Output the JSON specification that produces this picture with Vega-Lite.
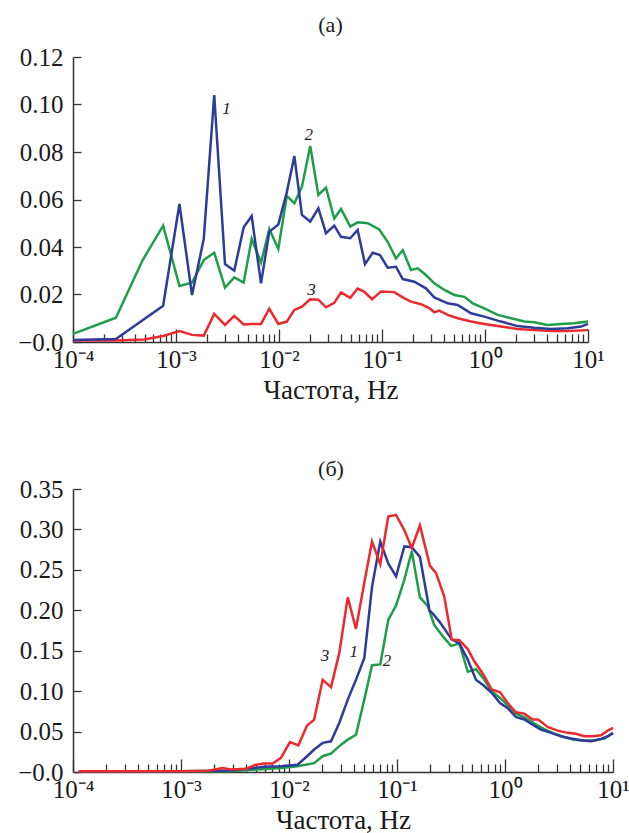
{
  "$schema": "https://vega.github.io/schema/vega-lite/v6.json",
  "padding": {"left": 17, "top": 14, "right": 5, "bottom": 0},
  "config": {
    "view": {"stroke": null},
    "font": "Liberation Serif",
    "axis": {"domainColor": "#333", "domainWidth": 1.5, "tickColor": "#333", "tickWidth": 1.3, "labelFont": "Liberation Serif", "labelFontSize": 25, "labelColor": "#1a1a1a", "titleFont": "Liberation Serif", "titleFontSize": 27, "titleFontWeight": "normal", "titleColor": "#1a1a1a", "grid": false},
    "title": {"font": "Liberation Serif", "fontSize": 22, "fontWeight": "normal", "color": "#1a1a1a"},
    "line": {"strokeWidth": 2.5}
  },
  "datasets": {
    "top": [
      {"s": "2", "f": 0.0001, "v": 0.0034}, {"s": "2", "f": 0.000261, "v": 0.0102}, {"s": "2", "f": 0.000475, "v": 0.0345}, {"s": "2", "f": 0.00075, "v": 0.049}, {"s": "2", "f": 0.00108, "v": 0.0236}, {"s": "2", "f": 0.00143, "v": 0.025}, {"s": "2", "f": 0.00186, "v": 0.0345}, {"s": "2", "f": 0.00235, "v": 0.0376}, {"s": "2", "f": 0.00299, "v": 0.0229}, {"s": "2", "f": 0.00368, "v": 0.0272}, {"s": "2", "f": 0.00454, "v": 0.025}, {"s": "2", "f": 0.00543, "v": 0.0434}, {"s": "2", "f": 0.00669, "v": 0.0334}, {"s": "2", "f": 0.00805, "v": 0.0476}, {"s": "2", "f": 0.00985, "v": 0.0392}, {"s": "2", "f": 0.0119, "v": 0.0615}, {"s": "2", "f": 0.0141, "v": 0.0584}, {"s": "2", "f": 0.0167, "v": 0.0654}, {"s": "2", "f": 0.0201, "v": 0.0825}, {"s": "2", "f": 0.0241, "v": 0.0619}, {"s": "2", "f": 0.0286, "v": 0.065}, {"s": "2", "f": 0.0344, "v": 0.052}, {"s": "2", "f": 0.04, "v": 0.056}, {"s": "2", "f": 0.0492, "v": 0.0486}, {"s": "2", "f": 0.058, "v": 0.0504}, {"s": "2", "f": 0.0727, "v": 0.05}, {"s": "2", "f": 0.094, "v": 0.0474}, {"s": "2", "f": 0.1135, "v": 0.0422}, {"s": "2", "f": 0.1367, "v": 0.0352}, {"s": "2", "f": 0.159, "v": 0.0387}, {"s": "2", "f": 0.191, "v": 0.0303}, {"s": "2", "f": 0.222, "v": 0.031}, {"s": "2", "f": 0.267, "v": 0.0282}, {"s": "2", "f": 0.322, "v": 0.0247}, {"s": "2", "f": 0.403, "v": 0.0219}, {"s": "2", "f": 0.504, "v": 0.0198}, {"s": "2", "f": 0.63, "v": 0.019}, {"s": "2", "f": 0.76, "v": 0.0163}, {"s": "2", "f": 0.985, "v": 0.0142}, {"s": "2", "f": 1.33, "v": 0.0114}, {"s": "2", "f": 1.79, "v": 0.01}, {"s": "2", "f": 2.41, "v": 0.0086}, {"s": "2", "f": 3.01, "v": 0.0083}, {"s": "2", "f": 4.06, "v": 0.0072}, {"s": "2", "f": 5.47, "v": 0.0076}, {"s": "2", "f": 7.36, "v": 0.0079}, {"s": "2", "f": 10, "v": 0.0086},
      {"s": "3", "f": 0.0001, "v": 0.0006}, {"s": "3", "f": 0.000261, "v": 0.0006}, {"s": "3", "f": 0.00049, "v": 0.0011}, {"s": "3", "f": 0.00075, "v": 0.0025}, {"s": "3", "f": 0.00108, "v": 0.0046}, {"s": "3", "f": 0.00143, "v": 0.003}, {"s": "3", "f": 0.00186, "v": 0.0027}, {"s": "3", "f": 0.00235, "v": 0.0118}, {"s": "3", "f": 0.00299, "v": 0.0072}, {"s": "3", "f": 0.00368, "v": 0.011}, {"s": "3", "f": 0.00454, "v": 0.0074}, {"s": "3", "f": 0.00543, "v": 0.0076}, {"s": "3", "f": 0.00669, "v": 0.0076}, {"s": "3", "f": 0.00805, "v": 0.014}, {"s": "3", "f": 0.00985, "v": 0.0076}, {"s": "3", "f": 0.0119, "v": 0.0086}, {"s": "3", "f": 0.0141, "v": 0.0135}, {"s": "3", "f": 0.0167, "v": 0.0149}, {"s": "3", "f": 0.0201, "v": 0.018}, {"s": "3", "f": 0.0241, "v": 0.0178}, {"s": "3", "f": 0.0286, "v": 0.0146}, {"s": "3", "f": 0.0344, "v": 0.0165}, {"s": "3", "f": 0.04, "v": 0.0209}, {"s": "3", "f": 0.0492, "v": 0.0186}, {"s": "3", "f": 0.058, "v": 0.0225}, {"s": "3", "f": 0.067, "v": 0.0212}, {"s": "3", "f": 0.08, "v": 0.018}, {"s": "3", "f": 0.098, "v": 0.0213}, {"s": "3", "f": 0.1315, "v": 0.021}, {"s": "3", "f": 0.159, "v": 0.0188}, {"s": "3", "f": 0.191, "v": 0.017}, {"s": "3", "f": 0.239, "v": 0.0159}, {"s": "3", "f": 0.29, "v": 0.0142}, {"s": "3", "f": 0.322, "v": 0.0125}, {"s": "3", "f": 0.36, "v": 0.0132}, {"s": "3", "f": 0.434, "v": 0.0114}, {"s": "3", "f": 0.543, "v": 0.01}, {"s": "3", "f": 0.731, "v": 0.0086}, {"s": "3", "f": 0.985, "v": 0.0076}, {"s": "3", "f": 1.43, "v": 0.0065}, {"s": "3", "f": 2.07, "v": 0.0055}, {"s": "3", "f": 3.01, "v": 0.005}, {"s": "3", "f": 4.37, "v": 0.0046}, {"s": "3", "f": 6.35, "v": 0.0046}, {"s": "3", "f": 10, "v": 0.005},
      {"s": "1", "f": 0.0001, "v": 0.0008}, {"s": "1", "f": 0.000261, "v": 0.0013}, {"s": "1", "f": 0.00075, "v": 0.0153}, {"s": "1", "f": 0.00108, "v": 0.0581}, {"s": "1", "f": 0.00143, "v": 0.0198}, {"s": "1", "f": 0.00186, "v": 0.0434}, {"s": "1", "f": 0.00235, "v": 0.104}, {"s": "1", "f": 0.00299, "v": 0.0328}, {"s": "1", "f": 0.00368, "v": 0.03}, {"s": "1", "f": 0.00454, "v": 0.0483}, {"s": "1", "f": 0.00543, "v": 0.053}, {"s": "1", "f": 0.00669, "v": 0.0247}, {"s": "1", "f": 0.00805, "v": 0.0464}, {"s": "1", "f": 0.00985, "v": 0.0495}, {"s": "1", "f": 0.0119, "v": 0.063}, {"s": "1", "f": 0.0141, "v": 0.0783}, {"s": "1", "f": 0.0167, "v": 0.0535}, {"s": "1", "f": 0.0201, "v": 0.0507}, {"s": "1", "f": 0.0241, "v": 0.0563}, {"s": "1", "f": 0.0286, "v": 0.0458}, {"s": "1", "f": 0.0344, "v": 0.049}, {"s": "1", "f": 0.04, "v": 0.0443}, {"s": "1", "f": 0.0492, "v": 0.0437}, {"s": "1", "f": 0.058, "v": 0.0472}, {"s": "1", "f": 0.0684, "v": 0.0328}, {"s": "1", "f": 0.0813, "v": 0.0376}, {"s": "1", "f": 0.0957, "v": 0.0366}, {"s": "1", "f": 0.1135, "v": 0.0313}, {"s": "1", "f": 0.1367, "v": 0.0317}, {"s": "1", "f": 0.159, "v": 0.0265}, {"s": "1", "f": 0.206, "v": 0.0254}, {"s": "1", "f": 0.267, "v": 0.0226}, {"s": "1", "f": 0.322, "v": 0.0188}, {"s": "1", "f": 0.434, "v": 0.0163}, {"s": "1", "f": 0.543, "v": 0.0156}, {"s": "1", "f": 0.731, "v": 0.0121}, {"s": "1", "f": 0.985, "v": 0.0107}, {"s": "1", "f": 1.43, "v": 0.0086}, {"s": "1", "f": 2.07, "v": 0.0067}, {"s": "1", "f": 3.01, "v": 0.006}, {"s": "1", "f": 4.37, "v": 0.0055}, {"s": "1", "f": 6.35, "v": 0.0058}, {"s": "1", "f": 8.55, "v": 0.0065}, {"s": "1", "f": 10, "v": 0.0076}
    ],
    "bottom": [
      {"s": "2", "f": 0.000113, "v": 0.0003}, {"s": "2", "f": 0.001, "v": 0.0005}, {"s": "2", "f": 0.0029, "v": 0.001}, {"s": "2", "f": 0.00843, "v": 0.005}, {"s": "2", "f": 0.012, "v": 0.007}, {"s": "2", "f": 0.0171, "v": 0.011}, {"s": "2", "f": 0.0205, "v": 0.0195}, {"s": "2", "f": 0.0245, "v": 0.0228}, {"s": "2", "f": 0.0292, "v": 0.032}, {"s": "2", "f": 0.035, "v": 0.04}, {"s": "2", "f": 0.0417, "v": 0.046}, {"s": "2", "f": 0.0498, "v": 0.0895}, {"s": "2", "f": 0.0587, "v": 0.132}, {"s": "2", "f": 0.07, "v": 0.133}, {"s": "2", "f": 0.083, "v": 0.188}, {"s": "2", "f": 0.098, "v": 0.206}, {"s": "2", "f": 0.117, "v": 0.238}, {"s": "2", "f": 0.137, "v": 0.273}, {"s": "2", "f": 0.163, "v": 0.216}, {"s": "2", "f": 0.193, "v": 0.205}, {"s": "2", "f": 0.221, "v": 0.182}, {"s": "2", "f": 0.265, "v": 0.168}, {"s": "2", "f": 0.316, "v": 0.156}, {"s": "2", "f": 0.378, "v": 0.159}, {"s": "2", "f": 0.452, "v": 0.124}, {"s": "2", "f": 0.538, "v": 0.127}, {"s": "2", "f": 0.644, "v": 0.114}, {"s": "2", "f": 0.753, "v": 0.0998}, {"s": "2", "f": 0.9, "v": 0.0916}, {"s": "2", "f": 1.06, "v": 0.0825}, {"s": "2", "f": 1.26, "v": 0.072}, {"s": "2", "f": 1.51, "v": 0.068}, {"s": "2", "f": 1.87, "v": 0.06}, {"s": "2", "f": 2.31, "v": 0.053}, {"s": "2", "f": 2.86, "v": 0.0475}, {"s": "2", "f": 3.54, "v": 0.043}, {"s": "2", "f": 4.38, "v": 0.04}, {"s": "2", "f": 5.42, "v": 0.039}, {"s": "2", "f": 6.71, "v": 0.039}, {"s": "2", "f": 8.32, "v": 0.0414}, {"s": "2", "f": 10, "v": 0.048},
      {"s": "1", "f": 0.000113, "v": 0.0005}, {"s": "1", "f": 0.001, "v": 0.0008}, {"s": "1", "f": 0.0029, "v": 0.002}, {"s": "1", "f": 0.0059, "v": 0.0064}, {"s": "1", "f": 0.00843, "v": 0.0072}, {"s": "1", "f": 0.012, "v": 0.009}, {"s": "1", "f": 0.0147, "v": 0.0195}, {"s": "1", "f": 0.0171, "v": 0.0278}, {"s": "1", "f": 0.0205, "v": 0.036}, {"s": "1", "f": 0.0245, "v": 0.038}, {"s": "1", "f": 0.0292, "v": 0.0607}, {"s": "1", "f": 0.035, "v": 0.0895}, {"s": "1", "f": 0.0417, "v": 0.114}, {"s": "1", "f": 0.0498, "v": 0.141}, {"s": "1", "f": 0.0587, "v": 0.229}, {"s": "1", "f": 0.07, "v": 0.285}, {"s": "1", "f": 0.083, "v": 0.258}, {"s": "1", "f": 0.098, "v": 0.242}, {"s": "1", "f": 0.117, "v": 0.279}, {"s": "1", "f": 0.137, "v": 0.278}, {"s": "1", "f": 0.163, "v": 0.266}, {"s": "1", "f": 0.2, "v": 0.2}, {"s": "1", "f": 0.214, "v": 0.196}, {"s": "1", "f": 0.247, "v": 0.186}, {"s": "1", "f": 0.321, "v": 0.164}, {"s": "1", "f": 0.378, "v": 0.159}, {"s": "1", "f": 0.452, "v": 0.139}, {"s": "1", "f": 0.538, "v": 0.114}, {"s": "1", "f": 0.634, "v": 0.107}, {"s": "1", "f": 0.753, "v": 0.098}, {"s": "1", "f": 0.9, "v": 0.0854}, {"s": "1", "f": 1.06, "v": 0.079}, {"s": "1", "f": 1.26, "v": 0.068}, {"s": "1", "f": 1.51, "v": 0.065}, {"s": "1", "f": 1.8, "v": 0.0586}, {"s": "1", "f": 2.15, "v": 0.0525}, {"s": "1", "f": 2.67, "v": 0.0484}, {"s": "1", "f": 3.3, "v": 0.0442}, {"s": "1", "f": 4.09, "v": 0.0414}, {"s": "1", "f": 5.05, "v": 0.0393}, {"s": "1", "f": 6.26, "v": 0.038}, {"s": "1", "f": 7.74, "v": 0.041}, {"s": "1", "f": 8.93, "v": 0.0442}, {"s": "1", "f": 10, "v": 0.0484},
      {"s": "3", "f": 0.000113, "v": 0.001}, {"s": "3", "f": 0.001, "v": 0.001}, {"s": "3", "f": 0.0018, "v": 0.0015}, {"s": "3", "f": 0.00243, "v": 0.005}, {"s": "3", "f": 0.0029, "v": 0.003}, {"s": "3", "f": 0.004, "v": 0.004}, {"s": "3", "f": 0.00494, "v": 0.009}, {"s": "3", "f": 0.0059, "v": 0.0105}, {"s": "3", "f": 0.00706, "v": 0.0105}, {"s": "3", "f": 0.00843, "v": 0.0175}, {"s": "3", "f": 0.0102, "v": 0.037}, {"s": "3", "f": 0.0122, "v": 0.033}, {"s": "3", "f": 0.0147, "v": 0.0574}, {"s": "3", "f": 0.0171, "v": 0.0648}, {"s": "3", "f": 0.0205, "v": 0.114}, {"s": "3", "f": 0.0245, "v": 0.105}, {"s": "3", "f": 0.0292, "v": 0.147}, {"s": "3", "f": 0.035, "v": 0.216}, {"s": "3", "f": 0.0417, "v": 0.177}, {"s": "3", "f": 0.0498, "v": 0.234}, {"s": "3", "f": 0.0587, "v": 0.285}, {"s": "3", "f": 0.07, "v": 0.257}, {"s": "3", "f": 0.083, "v": 0.316}, {"s": "3", "f": 0.098, "v": 0.318}, {"s": "3", "f": 0.117, "v": 0.299}, {"s": "3", "f": 0.137, "v": 0.277}, {"s": "3", "f": 0.163, "v": 0.305}, {"s": "3", "f": 0.202, "v": 0.255}, {"s": "3", "f": 0.23, "v": 0.246}, {"s": "3", "f": 0.274, "v": 0.217}, {"s": "3", "f": 0.321, "v": 0.164}, {"s": "3", "f": 0.378, "v": 0.163}, {"s": "3", "f": 0.452, "v": 0.152}, {"s": "3", "f": 0.52, "v": 0.137}, {"s": "3", "f": 0.634, "v": 0.12}, {"s": "3", "f": 0.753, "v": 0.102}, {"s": "3", "f": 0.9, "v": 0.0985}, {"s": "3", "f": 1.06, "v": 0.0854}, {"s": "3", "f": 1.26, "v": 0.0738}, {"s": "3", "f": 1.51, "v": 0.0722}, {"s": "3", "f": 1.8, "v": 0.0648}, {"s": "3", "f": 2.03, "v": 0.0648}, {"s": "3", "f": 2.48, "v": 0.0558}, {"s": "3", "f": 3.07, "v": 0.0512}, {"s": "3", "f": 3.8, "v": 0.0484}, {"s": "3", "f": 4.54, "v": 0.0472}, {"s": "3", "f": 5.42, "v": 0.0442}, {"s": "3", "f": 6.48, "v": 0.0442}, {"s": "3", "f": 7.74, "v": 0.0454}, {"s": "3", "f": 8.93, "v": 0.0512}, {"s": "3", "f": 10, "v": 0.0546}
    ],
    "toplabels": [
      {"t": "1", "f": 0.0031, "v": 0.098}, {"t": "2", "f": 0.0195, "v": 0.0872}, {"t": "3", "f": 0.0207, "v": 0.0219}
    ],
    "bottomlabels": [
      {"t": "3", "f": 0.0215, "v": 0.144}, {"t": "1", "f": 0.0397, "v": 0.149}, {"t": "2", "f": 0.0807, "v": 0.137}
    ]
  },
  "resolve": {"scale": {"x": "independent", "y": "independent"}},
  "spacing": 55,
  "vconcat": [
    {
      "width": 515,
      "height": 285,
      "title": {"text": "(a)", "offset": 8},
      "layer": [
        {
          "data": {"name": "top"},
          "mark": {"type": "line"},
          "encoding": {
            "x": {"field": "f", "type": "quantitative", "scale": {"type": "log", "domain": [0.0001, 10], "nice": false},
              "axis": {"title": "Частота, Hz", "titlePadding": 0, "labelFlush": false, "labelOverlap": false, "labelPadding": 18,
                "values": [0.0001,0.0002,0.0003,0.0004,0.0005,0.0006,0.0007,0.0008,0.0009,0.001,0.002,0.003,0.004,0.005,0.006,0.007,0.008,0.009,0.01,0.02,0.03,0.04,0.05,0.06,0.07,0.08,0.09,0.1,0.2,0.3,0.4,0.5,0.6,0.7,0.8,0.9,1,2,3,4,5,6,7,8,9,10],
                "tickSize": {"condition": {"test": "abs(log(datum.value)/LN10 - round(log(datum.value)/LN10)) < 0.001", "value": -13}, "value": -8},
                "labelExpr": "abs(log(datum.value)/LN10 - round(log(datum.value)/LN10)) < 0.001 ? (round(log(datum.value)/LN10) == -4 ? '10⁻⁴' : round(log(datum.value)/LN10) == -3 ? '10⁻³' : round(log(datum.value)/LN10) == -2 ? '10⁻²' : round(log(datum.value)/LN10) == -1 ? '10⁻¹' : round(log(datum.value)/LN10) == 0 ? '10⁰' : '10¹') : ''"}},
            "y": {"field": "v", "type": "quantitative", "scale": {"domain": [0, 0.12], "nice": false},
              "axis": {"title": null, "values": [0, 0.02, 0.04, 0.06, 0.08, 0.1, 0.12], "tickSize": -8, "labelPadding": 18,
                "labelExpr": "datum.value == 0 ? '−0.0' : format(datum.value, '.2f')"}},
            "color": {"field": "s", "type": "nominal", "scale": {"domain": ["1", "2", "3"], "range": ["#2d3c9b", "#1f9e4a", "#ec2a2d"]}, "legend": null},
            "order": {"field": "f", "type": "quantitative"}
          }
        },
        {
          "data": {"name": "toplabels"},
          "mark": {"type": "text", "font": "Liberation Serif", "fontStyle": "italic", "fontSize": 17, "color": "#222"},
          "encoding": {
            "x": {"field": "f", "type": "quantitative"},
            "y": {"field": "v", "type": "quantitative"},
            "text": {"field": "t"}
          }
        }
      ]
    },
    {
      "width": 540,
      "height": 283,
      "title": {"text": "(б)", "offset": -4, "dx": -12},
      "layer": [
        {
          "data": {"name": "bottom"},
          "mark": {"type": "line"},
          "encoding": {
            "x": {"field": "f", "type": "quantitative", "scale": {"type": "log", "domain": [0.0001, 10], "nice": false},
              "axis": {"title": "Частота, Hz", "titlePadding": 0, "labelFlush": false, "labelOverlap": false, "labelPadding": 18,
                "values": [0.0001,0.0002,0.0003,0.0004,0.0005,0.0006,0.0007,0.0008,0.0009,0.001,0.002,0.003,0.004,0.005,0.006,0.007,0.008,0.009,0.01,0.02,0.03,0.04,0.05,0.06,0.07,0.08,0.09,0.1,0.2,0.3,0.4,0.5,0.6,0.7,0.8,0.9,1,2,3,4,5,6,7,8,9,10],
                "tickSize": {"condition": {"test": "abs(log(datum.value)/LN10 - round(log(datum.value)/LN10)) < 0.001", "value": -13}, "value": -8},
                "labelExpr": "abs(log(datum.value)/LN10 - round(log(datum.value)/LN10)) < 0.001 ? (round(log(datum.value)/LN10) == -4 ? '10⁻⁴' : round(log(datum.value)/LN10) == -3 ? '10⁻³' : round(log(datum.value)/LN10) == -2 ? '10⁻²' : round(log(datum.value)/LN10) == -1 ? '10⁻¹' : round(log(datum.value)/LN10) == 0 ? '10⁰' : '10¹') : ''"}},
            "y": {"field": "v", "type": "quantitative", "scale": {"domain": [0, 0.35], "nice": false},
              "axis": {"title": null, "values": [0, 0.05, 0.1, 0.15, 0.2, 0.25, 0.3, 0.35], "tickSize": -8, "labelPadding": 18,
                "labelExpr": "datum.value == 0 ? '−0.0' : format(datum.value, '.2f')"}},
            "color": {"field": "s", "type": "nominal", "scale": {"domain": ["1", "2", "3"], "range": ["#2d3c9b", "#1f9e4a", "#ec2a2d"]}, "legend": null},
            "order": {"field": "f", "type": "quantitative"}
          }
        },
        {
          "data": {"name": "bottomlabels"},
          "mark": {"type": "text", "font": "Liberation Serif", "fontStyle": "italic", "fontSize": 17, "color": "#222"},
          "encoding": {
            "x": {"field": "f", "type": "quantitative"},
            "y": {"field": "v", "type": "quantitative"},
            "text": {"field": "t"}
          }
        }
      ]
    }
  ]
}
